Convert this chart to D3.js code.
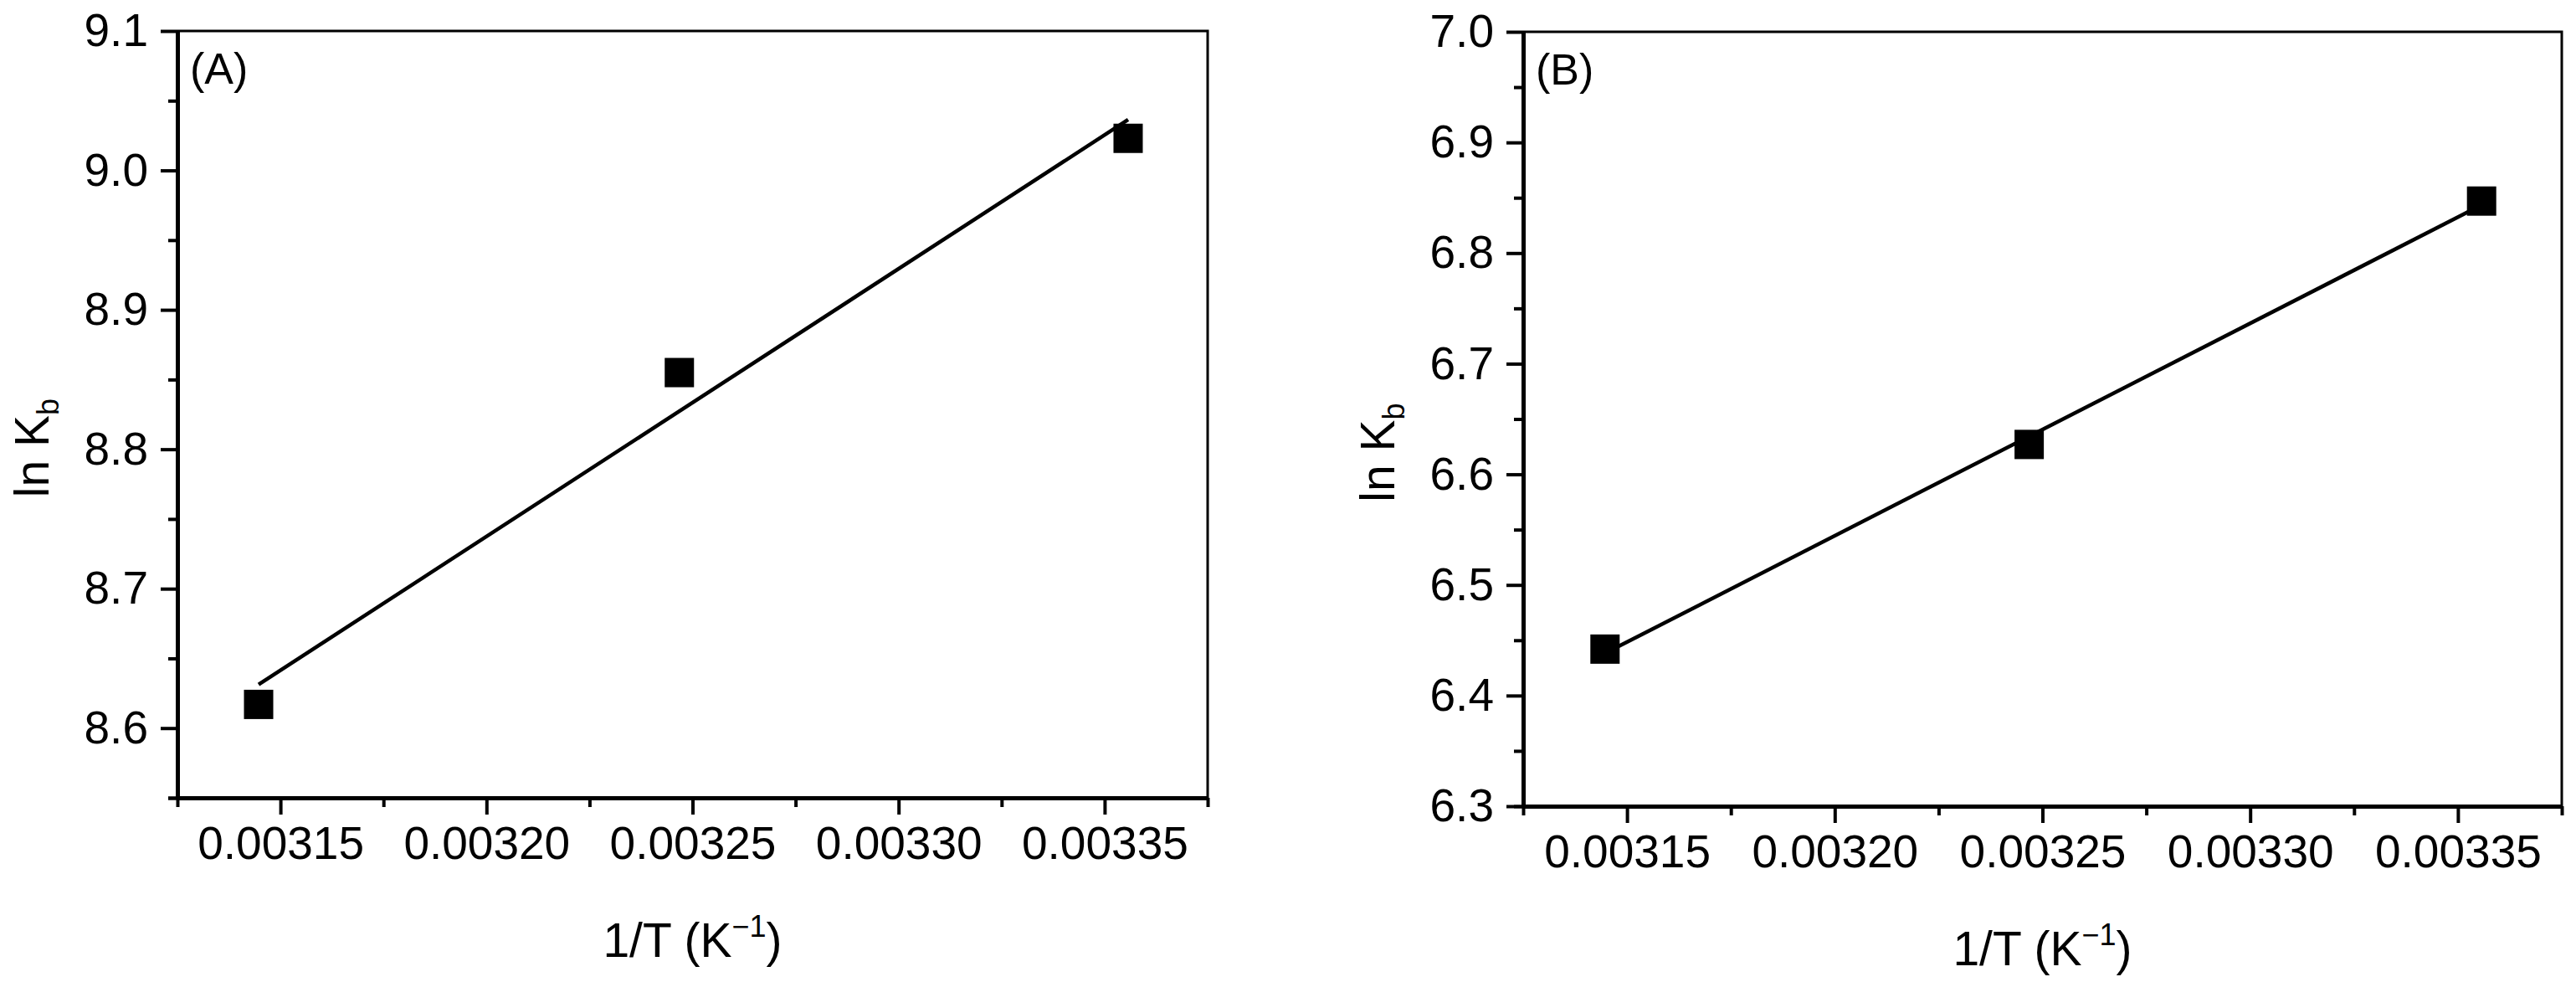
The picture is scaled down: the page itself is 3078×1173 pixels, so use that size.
<!DOCTYPE html>
<html>
<head>
  <meta charset="utf-8">
  <title>ln Kb vs 1/T</title>
  <script src="https://d3js.org/d3.v7.min.js"></script>
  <style>
    body { margin: 0; background: #fff; }
    text { font-family: "Liberation Sans", Arial, sans-serif; fill: #000; }
  </style>
</head>
<body>
<svg id="chart" width="3078" height="1173"></svg>

<script>

// data
var invT = [0.0031447, 0.0032468, 0.0033557];   // 318 K, 308 K, 298 K
var lnKbA = [8.617, 8.855, 9.023];
var lnKbB = [6.442, 6.627, 6.847];

var xDomain = [0.003125, 0.003375];
var xTicks = [0.00315, 0.00320, 0.00325, 0.00330, 0.00335];
var xMinor = [0.003125, 0.003175, 0.003225, 0.003275, 0.003325, 0.003375];

var yTicksA = [8.6, 8.7, 8.8, 8.9, 9.0, 9.1];
var yMinorA = [8.55, 8.65, 8.75, 8.85, 8.95, 9.05];
var yTicksB = [6.3, 6.4, 6.5, 6.6, 6.7, 6.8, 6.9, 7.0];
var yMinorB = [6.35, 6.45, 6.55, 6.65, 6.75, 6.85, 6.95];

var panels = [
  {label: "(A)", y: lnKbA, yDomain: [8.55, 9.1], yTicks: yTicksA, yMinor: yMinorA,
   left: 212, top: 37, right: 1443, bottom: 953},
  {label: "(B)", y: lnKbB, yDomain: [6.3, 7.0], yTicks: yTicksB, yMinor: yMinorB,
   left: 1820, top: 38, right: 3061, bottom: 963}
];

var svg = d3.select("#chart");

panels.forEach(drawPanel);

function styleAxis(g, size) {
  g.attr("font-size", size).attr("font-family", "'Liberation Sans', Arial, sans-serif");
  g.select(".domain").attr("stroke", "#000").attr("stroke-width", 5);
  g.selectAll(".tick line").attr("stroke", "#000").attr("stroke-width", 4);
  g.selectAll(".tick text").attr("fill", "#000");
}

function drawPanel(p) {
  var w = p.right - p.left,
      h = p.bottom - p.top;

  var g = svg.append("g")
      .attr("transform", "translate(" + p.left + "," + p.top + ")");

  var x = d3.scaleLinear().domain(xDomain).range([0, w]);
  var y = d3.scaleLinear().domain(p.yDomain).range([h, 0]);

  // thin top / right frame
  g.append("path")
      .attr("d", "M0,0H" + w + "V" + h)
      .attr("fill", "none")
      .attr("stroke", "#000")
      .attr("stroke-width", 3);

  // x axis: minor then major
  g.append("g")
      .attr("transform", "translate(0," + h + ")")
      .call(d3.axisBottom(x).tickValues(xMinor).tickSize(11).tickSizeOuter(0).tickFormat(""))
      .call(styleAxis, 55);
  g.append("g")
      .attr("transform", "translate(0," + h + ")")
      .call(d3.axisBottom(x).tickValues(xTicks).tickSize(20).tickPadding(14)
            .tickSizeOuter(0).tickFormat(d3.format(".5f")))
      .call(styleAxis, 55);

  // y axis
  g.append("g")
      .call(d3.axisLeft(y).tickValues(p.yMinor.concat([p.yDomain[0]])).tickSize(11).tickSizeOuter(0).tickFormat(""))
      .call(styleAxis, 55);
  g.append("g")
      .call(d3.axisLeft(y).tickValues(p.yTicks).tickSize(20).tickPadding(15)
            .tickSizeOuter(0).tickFormat(d3.format(".1f")))
      .call(styleAxis, 55);

  // linear fit through the points
  var mx = d3.mean(invT), my = d3.mean(p.y);
  var sxy = d3.sum(invT, function(d, i) { return (d - mx) * (p.y[i] - my); });
  var sxx = d3.sum(invT, function(d) { return (d - mx) * (d - mx); });
  var slope = sxy / sxx, icpt = my - slope * mx;
  var ends = d3.extent(invT);

  g.append("path")
      .datum(ends)
      .attr("fill", "none")
      .attr("stroke", "#000")
      .attr("stroke-width", 4.5)
      .attr("d", d3.line()
        .x(function(d) { return x(d); })
        .y(function(d) { return y(slope * d + icpt); }));

  // square markers
  var s = 35;
  g.selectAll(".pt")
      .data(invT)
    .enter().append("rect")
      .attr("class", "pt")
      .attr("x", function(d) { return x(d) - s / 2; })
      .attr("y", function(d, i) { return y(p.y[i]) - s / 2; })
      .attr("width", s)
      .attr("height", s)
      .attr("fill", "#000");

  // panel label
  g.append("text")
      .attr("x", 15)
      .attr("y", 63)
      .attr("font-size", 52)
      .text(p.label);

  // x title with superscript
  var xt = g.append("text")
      .attr("x", w / 2)
      .attr("y", h + 190)
      .attr("text-anchor", "middle")
      .attr("font-size", 57);
  xt.append("tspan").text("1/T (K");
  xt.append("tspan").attr("font-size", 36).attr("dy", -24).text("\u22121");
  xt.append("tspan").attr("dy", 24).text(")");

  // y title with subscript
  var yt = g.append("text")
      .attr("transform", "translate(-154," + (h / 2 + 40) + ") rotate(-90)")
      .attr("text-anchor", "middle")
      .attr("font-size", 57);
  yt.append("tspan").text("ln K");
  yt.append("tspan").attr("font-size", 36).attr("dy", 12).text("b");
}
</script>
</body>
</html>
